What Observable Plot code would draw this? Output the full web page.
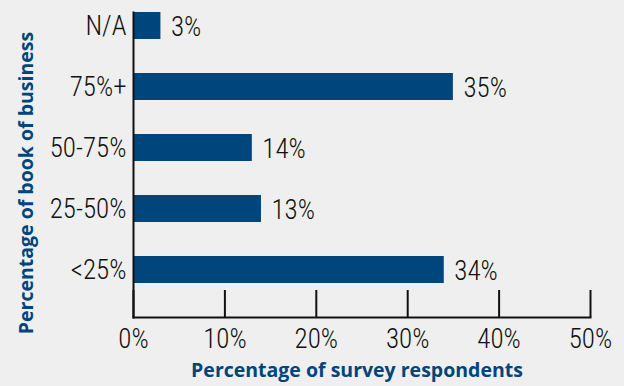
<!DOCTYPE html>
<html>
<head>
<meta charset="utf-8">
<script src="https://cdn.jsdelivr.net/npm/d3@7"></script>
<script src="https://cdn.jsdelivr.net/npm/@observablehq/plot@0.6"></script>
<style>
  html, body { margin: 0; padding: 0; background: #efefef; }
  #chart svg { display: block; }
  #chart svg text { font-family: 'Roboto Condensed', 'Roboto', sans-serif !important; font-stretch: condensed; font-weight: 300; }
  #chart svg .title text { font-family: 'Open Sans', 'Liberation Sans', sans-serif !important; font-stretch: normal; font-weight: bold; }
</style>
</head>
<body>
<div id="chart"></div>
<script>
const categories = ["N/A", "75%+", "50-75%", "25-50%", "<25%"];
// bar lengths as drawn in the reference (the 50-75% and 25-50% bars are drawn at ~13 and ~14)
const barValues = [3, 35, 13, 14, 34];
// value labels as printed next to each bar
const labelValues = [3, 35, 14, 13, 34];
const xTicks = [0, 10, 20, 30, 40, 50];
const xTitle = "Percentage of survey respondents";
const yTitle = "Percentage of book of business";

const data = categories.map((c, i) => ({category: c, value: barValues[i], label: labelValues[i]}));

const blue = "#00457c";

const chart = Plot.plot({
  width: 624,
  height: 386,
  marginTop: 12,
  marginBottom: 69,
  marginLeft: 133,
  marginRight: 34,
  style: {background: "#efefef", color: "#111"},
  x: {domain: [0, 50], ticks: xTicks},
  y: {domain: categories, paddingInner: 0.563, paddingOuter: 0.251, align: 0},
  marks: [
    Plot.barX(data, {y: "category", x: "value", fill: blue}),
    Plot.text(data, {y: "category", x: "value", text: d => d.label + "%", textAnchor: "start", dx: 10, dy: 1, fontSize: 27, fill: "#111"}),
    Plot.frame({anchor: "left", stroke: "#111", strokeWidth: 2}),
    Plot.frame({anchor: "bottom", stroke: "#111", strokeWidth: 2}),
    Plot.axisX({ticks: xTicks, tickSize: -27, strokeWidth: 2, tickFormat: () => "", label: null}),
    Plot.axisX({ticks: xTicks, tickSize: 0, tickPadding: 11, tickFormat: d => d + "%", fontSize: 27, label: null}),
    Plot.axisY({tickSize: 0, tickPadding: 7, fontSize: 27, label: null}),
    Plot.text([xTitle], {frameAnchor: "bottom", textAnchor: "middle", dx: -5, dy: 59, text: d => d, fontSize: 19.5, fill: blue, className: "title"}),
    Plot.text([yTitle], {frameAnchor: "left", textAnchor: "middle", dx: -107, dy: 18, rotate: -90, text: d => d, fontSize: 19.5, fill: blue, className: "title"})
  ]
});
document.getElementById("chart").appendChild(chart);
</script>
</body>
</html>
